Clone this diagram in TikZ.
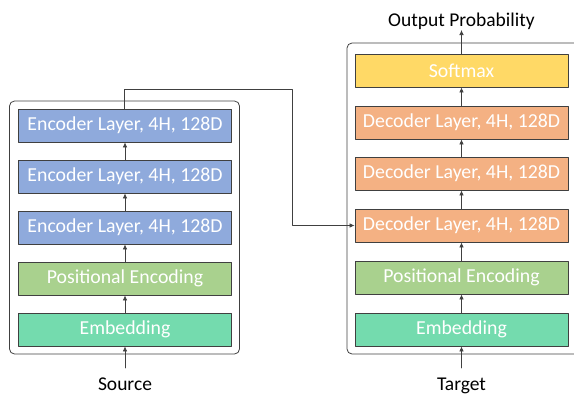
\documentclass[tikz,border=0pt]{standalone}
\usepackage{fontspec}
\setmainfont{Carlito}
\usepackage{xcolor}
\usetikzlibrary{positioning, calc, arrows.meta}

\definecolor{encblue}{HTML}{8FAADC}
\definecolor{posgreen}{HTML}{A9D18E}
\definecolor{embgreen}{HTML}{74DBAE}
\definecolor{decorange}{HTML}{F4B183}
\definecolor{softyellow}{HTML}{FFD966}
\definecolor{edgegray}{HTML}{404040}

\begin{document}
\begin{tikzpicture}[x=1pt,y=-1pt, line cap=round, line join=round,
  layer/.style={draw=edgegray, line width=0.8pt, minimum width=213pt, minimum height=33pt,
    inner sep=0pt, text=white, font=\fontsize{19.8}{22}\selectfont},
  frame/.style={draw=edgegray, line width=0.8pt, rounded corners=5pt},
  lbl/.style={anchor=base, inner sep=0pt, font=\fontsize{19.5}{22}\selectfont},
  arr/.style={draw=edgegray, line width=0.7pt, -{Latex[length=5pt,width=4.5pt]}}]

\useasboundingbox (0,0) rectangle (574,394);

% outer frames
\draw[frame] (9.5,101) rectangle (239.5,354);
\draw[frame] (347,43) rectangle (585,354);

% encoder side
\node[layer, fill=embgreen]  (emb1) at (125,329.5) {Embedding};
\node[layer, fill=posgreen]  (pos1) at (125,278.5) {Positional Encoding};
\node[layer, fill=encblue]   (enc1) at (125,227.5) {Encoder Layer, 4H, 128D};
\node[layer, fill=encblue]   (enc2) at (125,176.5) {Encoder Layer, 4H, 128D};
\node[layer, fill=encblue]   (enc3) at (125,125.5) {Encoder Layer, 4H, 128D};

% decoder side
\node[layer, fill=embgreen]   (emb2) at (461.5,329.5) {Embedding};
\node[layer, fill=posgreen]   (pos2) at (461.5,277.5) {Positional Encoding};
\node[layer, fill=decorange]  (dec1) at (461.5,225.5) {Decoder Layer, 4H, 128D};
\node[layer, fill=decorange]  (dec2) at (461.5,173.5) {Decoder Layer, 4H, 128D};
\node[layer, fill=decorange]  (dec3) at (461.5,122.5) {Decoder Layer, 4H, 128D};
\node[layer, fill=softyellow] (soft) at (461.5,70.5)  {Softmax};

% labels
\node[lbl] (src) at (125,390)  {Source};
\node[lbl] (tgt) at (461.5,390) {Target};
\node[lbl] (out) at (461.5,26) {Output Probability};

\coordinate (srcin) at (125,368);
\coordinate (tgtin) at (461.5,368);
\coordinate (outtip) at (461.5,30);

% stacks
\draw[arr] (srcin) -- (emb1.south);
\draw[arr] (emb1.north) -- (pos1.south);
\draw[arr] (pos1.north) -- (enc1.south);
\draw[arr] (enc1.north) -- (enc2.south);
\draw[arr] (enc2.north) -- (enc3.south);

\draw[arr] (tgtin) -- (emb2.south);
\draw[arr] (emb2.north) -- (pos2.south);
\draw[arr] (pos2.north) -- (dec1.south);
\draw[arr] (dec1.north) -- (dec2.south);
\draw[arr] (dec2.north) -- (dec3.south);
\draw[arr] (dec3.north) -- (soft.south);
\draw[arr] (soft.north) -- (outtip);

% encoder output into decoder
\coordinate (up) at (124,89.5);
\coordinate (over) at (292.5,89.5);
\coordinate (down) at (292.5,225.5);
\draw[arr] (enc3.north -| up) -- (up) -- (over) -- (down) -- (dec1.west);

\end{tikzpicture}
\end{document}
